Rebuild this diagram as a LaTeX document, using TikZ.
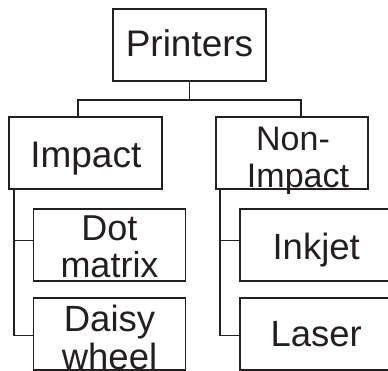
\documentclass[tikz,border=0pt]{standalone}
\usepackage{fontspec}
\setmainfont{Liberation Sans}
\definecolor{ink}{HTML}{231F20}
\newcommand{\twolines}[2]{\begin{tabular}[t]{@{}c@{}}#1\\#2\end{tabular}}
\begin{document}
\begin{tikzpicture}[x=1pt,y=-1pt,
  box/.style={draw=ink,line width=1.9pt,rectangle,minimum width=152pt,minimum height=72pt,inner sep=0pt,text height=0pt,text depth=0pt,text=ink},
  link/.style={draw=ink,line width=1.6pt}]
\useasboundingbox (0,0) rectangle (388,370);
\node[box,minimum width=153pt,font=\fontsize{37}{38}\selectfont] (P) at (189.5,45) {\raisebox{-11.7pt}{Printers}};
\node[box,minimum width=153pt,font=\fontsize{37}{38}\selectfont] (imp) at (85.8,153.3) {\raisebox{-14.4pt}{Impact}};
\node[box,font=\fontsize{34}{37.7}\selectfont] (non) at (292.2,153.3) {\hspace*{11.6pt}\raisebox{3.3pt}{\twolines{Non-\hspace*{10pt}}{Impact}}};
\node[box,font=\fontsize{36}{36.7}\selectfont] (dot) at (109.5,244.9) {\raisebox{4.9pt}{\twolines{Dot}{matrix}}};
\node[box,font=\fontsize{36.5}{37.3}\selectfont] (daisy) at (109.5,334.4) {\raisebox{2.7pt}{\twolines{Daisy}{wheel}}};
\node[box,font=\fontsize{36.5}{38}\selectfont] (ink) at (316.2,244.9) {\raisebox{-14.1pt}{Inkjet}};
\node[box,font=\fontsize{36.5}{38}\selectfont] (las) at (316.2,334.4) {\raisebox{-12.3pt}{Laser}};
\draw[link] (P.south) -- ++(0,18) -| ([xshift=-8.1pt]imp.north);
\draw[link] (P.south) -- ++(0,18) -| ([xshift=8.8pt]non.north);
\draw[link] ([xshift=5.7pt]imp.south west) |- ([yshift=4.4pt]dot.west);
\draw[link] ([xshift=5.7pt]imp.south west) |- ([yshift=-1.1pt]daisy.west);
\draw[link] ([xshift=5pt]non.south west) |- ([yshift=4.4pt]ink.west);
\draw[link] ([xshift=5pt]non.south west) |- ([yshift=-1.1pt]las.west);
\end{tikzpicture}
\end{document}
